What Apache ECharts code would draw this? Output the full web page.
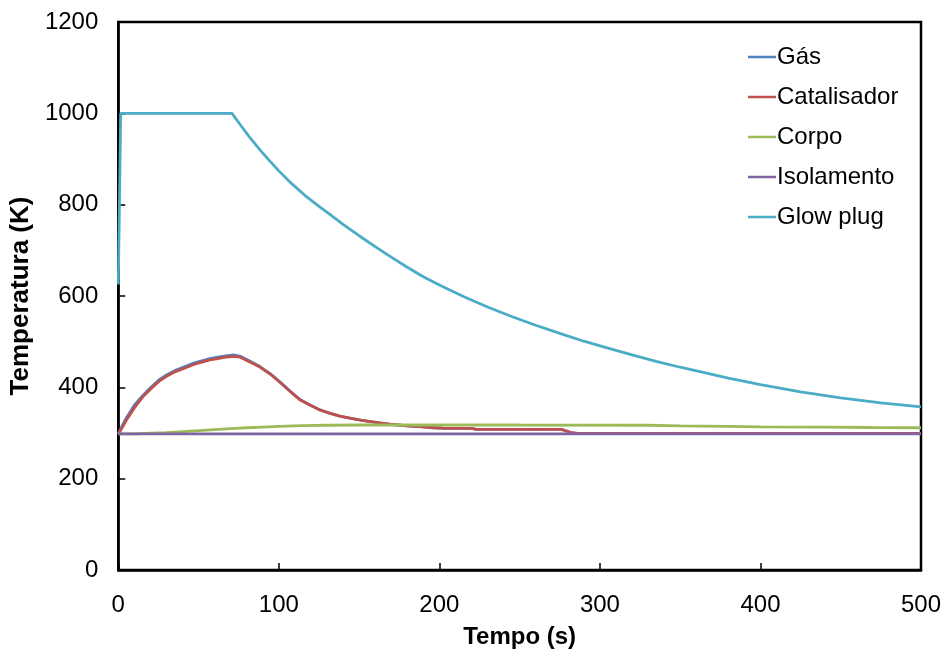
<!DOCTYPE html>
<html>
<head>
<meta charset="utf-8">
<script src="https://cdn.jsdelivr.net/npm/echarts@6/dist/echarts.min.js"></script>
<style>
html,body{margin:0;padding:0;background:#fff;}
#chart{width:946px;height:659px;}
</style>
</head>
<body>
<div id="chart"></div>
<script>
// Tick settings
const xTicks = [0, 100, 200, 300, 400, 500];
const yTicks = [0, 200, 400, 600, 800, 1000, 1200];

// Gás
const gasTime = [0, 2, 5, 10, 15, 20, 26, 30, 36, 42, 47, 52, 57, 62, 67, 72, 76, 80, 88, 95, 101, 107, 113, 120, 126, 132, 138, 145, 151, 157, 163, 170, 176, 182, 188, 194, 200, 203, 220, 223, 276, 282, 286, 500];
const gasTemp = [298, 313, 333, 361, 381, 399, 418, 427, 438, 446, 453, 458, 463, 466, 469, 471, 468, 461, 446, 429, 411, 392, 374, 360, 350, 343, 337, 332, 328, 325, 322, 319, 317, 315, 314, 312, 311, 310, 310, 308, 308, 301, 299, 299];

// Catalisador
const catTime = [0, 2, 5, 10, 15, 20, 26, 30, 36, 42, 47, 52, 57, 62, 67, 72, 76, 80, 88, 95, 101, 107, 113, 120, 126, 132, 138, 145, 151, 157, 163, 170, 176, 182, 188, 194, 200, 203, 220, 223, 276, 282, 286, 500];
const catTemp = [298, 309, 328, 355, 378, 396, 415, 424, 435, 443, 450, 455, 460, 463, 466, 468, 466, 459, 445, 428, 410, 391, 373, 360, 350, 343, 337, 332, 328, 325, 322, 319, 317, 315, 314, 312, 311, 310, 310, 308, 308, 301, 299, 299];

// Corpo
const corpoTime = [0, 10, 20, 30, 40, 50, 60, 70, 80, 90, 100, 115, 130, 150, 200, 250, 330, 350, 380, 400, 440, 470, 500];
const corpoTemp = [298, 298, 299.5, 301, 303, 305, 307.5, 309.5, 311.5, 313, 314.5, 316, 317, 317.5, 318, 317.5, 317, 315.5, 314.5, 313.5, 313, 312, 311.5];

// Isolamento
const isoTime = [0, 500];
const isoTemp = [298, 298];

// Glow plug
const glowTime = [0, 1.5, 70.8, 76, 82, 88, 94, 100, 108, 116, 124, 132, 140, 150, 160, 170, 180, 190, 200, 215, 230, 245, 260, 275, 290, 305, 320, 335, 350, 365, 380, 400, 425, 450, 475, 500];
const glowTemp = [625, 1000, 1000, 975, 947, 921, 897, 874, 846, 821, 799, 778, 757, 732, 708, 685, 663, 642, 624, 599, 576, 555, 536, 518, 501, 486, 471, 457, 444, 432, 420, 406, 390, 377, 366, 357];

const seriesNames = ['Gás', 'Catalisador', 'Corpo', 'Isolamento', 'Glow plug'];
const seriesColors = ['#4F81BD', '#C0504D', '#9BBB59', '#8064A2', '#4BACC6'];
const seriesTimes = [gasTime, catTime, corpoTime, isoTime, glowTime];
const seriesTemps = [gasTemp, catTemp, corpoTemp, isoTemp, glowTemp];

const pair = (t, v) => t.map((x, i) => [x, v[i]]);

const chart = echarts.init(document.getElementById('chart'), null, {renderer: 'canvas'});
const FONT = '"Liberation Sans", Arial, sans-serif';

const option = {
  backgroundColor: '#fff',
  animation: false,
  textStyle: {fontFamily: FONT},
  grid: {left: 118, right: 25, top: 22, bottom: 89, show: true, borderColor: '#000', borderWidth: 2.5, backgroundColor: 'transparent'},
  legend: {
    orient: 'vertical',
    left: 748, top: 44,
    padding: 0,
    itemGap: 14,
    itemWidth: 28, itemHeight: 2.5,
    icon: 'rect',
    data: seriesNames,
    textStyle: {fontFamily: FONT, fontSize: 24, color: '#000', lineHeight: 26, padding: [0, 0, 0, -4]}
  },
  xAxis: {
    type: 'value', min: xTicks[0], max: xTicks[xTicks.length - 1], interval: 100,
    name: 'Tempo (s)', nameLocation: 'middle', nameGap: 55,
    nameTextStyle: {fontFamily: FONT, fontSize: 24, fontWeight: 'bold', color: '#000'},
    axisLine: {show: true, lineStyle: {color: '#000', width: 2.5}},
    axisTick: {show: true, inside: true, length: 7, lineStyle: {color: '#000', width: 1.5}},
    axisLabel: {fontFamily: FONT, fontSize: 24, color: '#000', margin: 23, formatter: v => String(v)},
    splitLine: {show: false}
  },
  yAxis: {
    type: 'value', min: yTicks[0], max: yTicks[yTicks.length - 1], interval: 200,
    name: 'Temperatura (K)', nameLocation: 'middle', nameGap: 80,
    nameTextStyle: {fontFamily: FONT, fontSize: 26, fontWeight: 'bold', color: '#000'},
    axisLine: {show: true, lineStyle: {color: '#000', width: 2.5}},
    axisTick: {show: true, inside: true, length: 7, lineStyle: {color: '#000', width: 1.5}},
    axisLabel: {fontFamily: FONT, fontSize: 24, color: '#000', margin: 20, formatter: v => String(v)},
    splitLine: {show: false}
  },
  series: seriesNames.map((n, i) => ({
    name: n,
    type: 'line',
    data: pair(seriesTimes[i], seriesTemps[i]),
    showSymbol: false,
    symbol: 'none',
    smooth: false,
    color: seriesColors[i],
    lineStyle: {width: 2.8, color: seriesColors[i]},
    z: 2 + i
  }))
};
chart.setOption(option);
</script>
</body>
</html>
